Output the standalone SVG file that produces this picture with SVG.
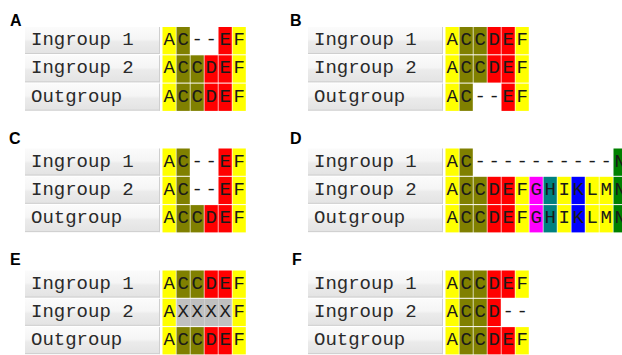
<svg xmlns="http://www.w3.org/2000/svg" width="622" height="355" viewBox="0 0 622 355">
<defs>
<linearGradient id="hdr" x1="0" y1="0" x2="0" y2="1">
<stop offset="0" stop-color="#fbfbfb"/>
<stop offset="0.45" stop-color="#f5f5f5"/>
<stop offset="0.55" stop-color="#ebebeb"/>
<stop offset="1" stop-color="#e3e3e3"/>
</linearGradient>
</defs>
<style>
.pl{font-family:"Liberation Sans",Arial,sans-serif;font-weight:bold;font-size:16px;fill:#000}
.lb{fill:url(#hdr)}
.ln{stroke:#cfcfcf;stroke-width:1;fill:none}
.lt{font-family:"Liberation Mono","Courier New",monospace;font-size:19px;fill:#2a2a2a}
.c{font-family:"Liberation Mono","Courier New",monospace;font-size:19px;fill:#1a1a1a;text-anchor:middle}
.y{fill:#ffff00}.o{fill:#808000}.r{fill:#ff0000}.m{fill:#ff00ff}.t{fill:#008080}.b{fill:#0000ff}.g{fill:#008000}.x{fill:#c0c0c0}
</style>
<rect width="622" height="355" fill="#fff"/>

<!-- Panel labels -->
<text class="pl" x="10" y="26">A</text>
<text class="pl" x="290" y="26">B</text>
<text class="pl" x="9" y="144">C</text>
<text class="pl" x="290" y="144">D</text>
<text class="pl" x="10" y="265">E</text>
<text class="pl" x="292" y="265">F</text>

<!-- Panel A -->
<g id="panelA" transform="translate(0,27)">
<g id="A-ingroup1">
<rect class="lb" x="25" y="0" width="135" height="27"/><line class="ln" x1="25" y1="26.5" x2="160" y2="26.5"/><line class="ln" x1="159.5" y1="0" x2="159.5" y2="27"/>
<text class="lt" x="31" y="18">Ingroup 1</text>
<rect class="y" x="162.5" y="0" width="13.3" height="27.3"/><text class="c" x="169.2" y="18">A</text>
<rect class="o" x="176.5" y="0" width="13.3" height="27.3"/><text class="c" x="183.2" y="18">C</text>
<text class="c" x="197.2" y="18">-</text>
<text class="c" x="211.2" y="18">-</text>
<rect class="r" x="218.5" y="0" width="13.3" height="27.3"/><text class="c" x="225.2" y="18">E</text>
<rect class="y" x="232.5" y="0" width="13.3" height="27.3"/><text class="c" x="239.2" y="18">F</text>
</g>
<g id="A-ingroup2" transform="translate(0,28.3)">
<rect class="lb" x="25" y="0" width="135" height="27"/><line class="ln" x1="25" y1="26.5" x2="160" y2="26.5"/><line class="ln" x1="159.5" y1="0" x2="159.5" y2="27"/>
<text class="lt" x="31" y="18">Ingroup 2</text>
<rect class="y" x="162.5" y="0" width="13.3" height="27.3"/><text class="c" x="169.2" y="18">A</text>
<rect class="o" x="176.5" y="0" width="13.3" height="27.3"/><text class="c" x="183.2" y="18">C</text>
<rect class="o" x="190.5" y="0" width="13.3" height="27.3"/><text class="c" x="197.2" y="18">C</text>
<rect class="r" x="204.5" y="0" width="13.3" height="27.3"/><text class="c" x="211.2" y="18">D</text>
<rect class="r" x="218.5" y="0" width="13.3" height="27.3"/><text class="c" x="225.2" y="18">E</text>
<rect class="y" x="232.5" y="0" width="13.3" height="27.3"/><text class="c" x="239.2" y="18">F</text>
</g>
<g id="A-outgroup" transform="translate(0,56.6)">
<rect class="lb" x="25" y="0" width="135" height="27"/><line class="ln" x1="25" y1="26.5" x2="160" y2="26.5"/><line class="ln" x1="159.5" y1="0" x2="159.5" y2="27"/>
<text class="lt" x="31" y="18">Outgroup</text>
<rect class="y" x="162.5" y="0" width="13.3" height="27.3"/><text class="c" x="169.2" y="18">A</text>
<rect class="o" x="176.5" y="0" width="13.3" height="27.3"/><text class="c" x="183.2" y="18">C</text>
<rect class="o" x="190.5" y="0" width="13.3" height="27.3"/><text class="c" x="197.2" y="18">C</text>
<rect class="r" x="204.5" y="0" width="13.3" height="27.3"/><text class="c" x="211.2" y="18">D</text>
<rect class="r" x="218.5" y="0" width="13.3" height="27.3"/><text class="c" x="225.2" y="18">E</text>
<rect class="y" x="232.5" y="0" width="13.3" height="27.3"/><text class="c" x="239.2" y="18">F</text>
</g>
</g>

<!-- Panel B -->
<g id="panelB" transform="translate(283,27)">
<g id="B-ingroup1">
<rect class="lb" x="25" y="0" width="135" height="27"/><line class="ln" x1="25" y1="26.5" x2="160" y2="26.5"/><line class="ln" x1="159.5" y1="0" x2="159.5" y2="27"/>
<text class="lt" x="31" y="18">Ingroup 1</text>
<rect class="y" x="162.5" y="0" width="13.3" height="27.3"/><text class="c" x="169.2" y="18">A</text>
<rect class="o" x="176.5" y="0" width="13.3" height="27.3"/><text class="c" x="183.2" y="18">C</text>
<rect class="o" x="190.5" y="0" width="13.3" height="27.3"/><text class="c" x="197.2" y="18">C</text>
<rect class="r" x="204.5" y="0" width="13.3" height="27.3"/><text class="c" x="211.2" y="18">D</text>
<rect class="r" x="218.5" y="0" width="13.3" height="27.3"/><text class="c" x="225.2" y="18">E</text>
<rect class="y" x="232.5" y="0" width="13.3" height="27.3"/><text class="c" x="239.2" y="18">F</text>
</g>
<g id="B-ingroup2" transform="translate(0,28.3)">
<rect class="lb" x="25" y="0" width="135" height="27"/><line class="ln" x1="25" y1="26.5" x2="160" y2="26.5"/><line class="ln" x1="159.5" y1="0" x2="159.5" y2="27"/>
<text class="lt" x="31" y="18">Ingroup 2</text>
<rect class="y" x="162.5" y="0" width="13.3" height="27.3"/><text class="c" x="169.2" y="18">A</text>
<rect class="o" x="176.5" y="0" width="13.3" height="27.3"/><text class="c" x="183.2" y="18">C</text>
<rect class="o" x="190.5" y="0" width="13.3" height="27.3"/><text class="c" x="197.2" y="18">C</text>
<rect class="r" x="204.5" y="0" width="13.3" height="27.3"/><text class="c" x="211.2" y="18">D</text>
<rect class="r" x="218.5" y="0" width="13.3" height="27.3"/><text class="c" x="225.2" y="18">E</text>
<rect class="y" x="232.5" y="0" width="13.3" height="27.3"/><text class="c" x="239.2" y="18">F</text>
</g>
<g id="B-outgroup" transform="translate(0,56.6)">
<rect class="lb" x="25" y="0" width="135" height="27"/><line class="ln" x1="25" y1="26.5" x2="160" y2="26.5"/><line class="ln" x1="159.5" y1="0" x2="159.5" y2="27"/>
<text class="lt" x="31" y="18">Outgroup</text>
<rect class="y" x="162.5" y="0" width="13.3" height="27.3"/><text class="c" x="169.2" y="18">A</text>
<rect class="o" x="176.5" y="0" width="13.3" height="27.3"/><text class="c" x="183.2" y="18">C</text>
<text class="c" x="197.2" y="18">-</text>
<text class="c" x="211.2" y="18">-</text>
<rect class="r" x="218.5" y="0" width="13.3" height="27.3"/><text class="c" x="225.2" y="18">E</text>
<rect class="y" x="232.5" y="0" width="13.3" height="27.3"/><text class="c" x="239.2" y="18">F</text>
</g>
</g>

<!-- Panel C -->
<g id="panelC" transform="translate(0,148.5)">
<g id="C-ingroup1">
<rect class="lb" x="25" y="0" width="135" height="27"/><line class="ln" x1="25" y1="26.5" x2="160" y2="26.5"/><line class="ln" x1="159.5" y1="0" x2="159.5" y2="27"/>
<text class="lt" x="31" y="18">Ingroup 1</text>
<rect class="y" x="162.5" y="0" width="13.3" height="27.3"/><text class="c" x="169.2" y="18">A</text>
<rect class="o" x="176.5" y="0" width="13.3" height="27.3"/><text class="c" x="183.2" y="18">C</text>
<text class="c" x="197.2" y="18">-</text>
<text class="c" x="211.2" y="18">-</text>
<rect class="r" x="218.5" y="0" width="13.3" height="27.3"/><text class="c" x="225.2" y="18">E</text>
<rect class="y" x="232.5" y="0" width="13.3" height="27.3"/><text class="c" x="239.2" y="18">F</text>
</g>
<g id="C-ingroup2" transform="translate(0,28.3)">
<rect class="lb" x="25" y="0" width="135" height="27"/><line class="ln" x1="25" y1="26.5" x2="160" y2="26.5"/><line class="ln" x1="159.5" y1="0" x2="159.5" y2="27"/>
<text class="lt" x="31" y="18">Ingroup 2</text>
<rect class="y" x="162.5" y="0" width="13.3" height="27.3"/><text class="c" x="169.2" y="18">A</text>
<rect class="o" x="176.5" y="0" width="13.3" height="27.3"/><text class="c" x="183.2" y="18">C</text>
<text class="c" x="197.2" y="18">-</text>
<text class="c" x="211.2" y="18">-</text>
<rect class="r" x="218.5" y="0" width="13.3" height="27.3"/><text class="c" x="225.2" y="18">E</text>
<rect class="y" x="232.5" y="0" width="13.3" height="27.3"/><text class="c" x="239.2" y="18">F</text>
</g>
<g id="C-outgroup" transform="translate(0,56.6)">
<rect class="lb" x="25" y="0" width="135" height="27"/><line class="ln" x1="25" y1="26.5" x2="160" y2="26.5"/><line class="ln" x1="159.5" y1="0" x2="159.5" y2="27"/>
<text class="lt" x="31" y="18">Outgroup</text>
<rect class="y" x="162.5" y="0" width="13.3" height="27.3"/><text class="c" x="169.2" y="18">A</text>
<rect class="o" x="176.5" y="0" width="13.3" height="27.3"/><text class="c" x="183.2" y="18">C</text>
<rect class="o" x="190.5" y="0" width="13.3" height="27.3"/><text class="c" x="197.2" y="18">C</text>
<rect class="r" x="204.5" y="0" width="13.3" height="27.3"/><text class="c" x="211.2" y="18">D</text>
<rect class="r" x="218.5" y="0" width="13.3" height="27.3"/><text class="c" x="225.2" y="18">E</text>
<rect class="y" x="232.5" y="0" width="13.3" height="27.3"/><text class="c" x="239.2" y="18">F</text>
</g>
</g>

<!-- Panel D -->
<g id="panelD" transform="translate(283,148.5)">
<g id="D-ingroup1">
<rect class="lb" x="25" y="0" width="135" height="27"/><line class="ln" x1="25" y1="26.5" x2="160" y2="26.5"/><line class="ln" x1="159.5" y1="0" x2="159.5" y2="27"/>
<text class="lt" x="31" y="18">Ingroup 1</text>
<rect class="y" x="162.5" y="0" width="13.3" height="27.3"/><text class="c" x="169.2" y="18">A</text>
<rect class="o" x="176.5" y="0" width="13.3" height="27.3"/><text class="c" x="183.2" y="18">C</text>
<text class="c" x="197.2" y="18">-</text>
<text class="c" x="211.2" y="18">-</text>
<text class="c" x="225.2" y="18">-</text>
<text class="c" x="239.2" y="18">-</text>
<text class="c" x="253.2" y="18">-</text>
<text class="c" x="267.2" y="18">-</text>
<text class="c" x="281.2" y="18">-</text>
<text class="c" x="295.2" y="18">-</text>
<text class="c" x="309.2" y="18">-</text>
<text class="c" x="323.2" y="18">-</text>
<rect class="g" x="330.5" y="0" width="13.3" height="27.3"/><text class="c" x="337.2" y="18">N</text>
</g>
<g id="D-ingroup2" transform="translate(0,28.3)">
<rect class="lb" x="25" y="0" width="135" height="27"/><line class="ln" x1="25" y1="26.5" x2="160" y2="26.5"/><line class="ln" x1="159.5" y1="0" x2="159.5" y2="27"/>
<text class="lt" x="31" y="18">Ingroup 2</text>
<rect class="y" x="162.5" y="0" width="13.3" height="27.3"/><text class="c" x="169.2" y="18">A</text>
<rect class="o" x="176.5" y="0" width="13.3" height="27.3"/><text class="c" x="183.2" y="18">C</text>
<rect class="o" x="190.5" y="0" width="13.3" height="27.3"/><text class="c" x="197.2" y="18">C</text>
<rect class="r" x="204.5" y="0" width="13.3" height="27.3"/><text class="c" x="211.2" y="18">D</text>
<rect class="r" x="218.5" y="0" width="13.3" height="27.3"/><text class="c" x="225.2" y="18">E</text>
<rect class="y" x="232.5" y="0" width="13.3" height="27.3"/><text class="c" x="239.2" y="18">F</text>
<rect class="m" x="246.5" y="0" width="13.3" height="27.3"/><text class="c" x="253.2" y="18">G</text>
<rect class="t" x="260.5" y="0" width="13.3" height="27.3"/><text class="c" x="267.2" y="18">H</text>
<rect class="y" x="274.5" y="0" width="13.3" height="27.3"/><text class="c" x="281.2" y="18">I</text>
<rect class="b" x="288.5" y="0" width="13.3" height="27.3"/><text class="c" x="295.2" y="18">K</text>
<rect class="y" x="302.5" y="0" width="13.3" height="27.3"/><text class="c" x="309.2" y="18">L</text>
<rect class="y" x="316.5" y="0" width="13.3" height="27.3"/><text class="c" x="323.2" y="18">M</text>
<rect class="g" x="330.5" y="0" width="13.3" height="27.3"/><text class="c" x="337.2" y="18">N</text>
</g>
<g id="D-outgroup" transform="translate(0,56.6)">
<rect class="lb" x="25" y="0" width="135" height="27"/><line class="ln" x1="25" y1="26.5" x2="160" y2="26.5"/><line class="ln" x1="159.5" y1="0" x2="159.5" y2="27"/>
<text class="lt" x="31" y="18">Outgroup</text>
<rect class="y" x="162.5" y="0" width="13.3" height="27.3"/><text class="c" x="169.2" y="18">A</text>
<rect class="o" x="176.5" y="0" width="13.3" height="27.3"/><text class="c" x="183.2" y="18">C</text>
<rect class="o" x="190.5" y="0" width="13.3" height="27.3"/><text class="c" x="197.2" y="18">C</text>
<rect class="r" x="204.5" y="0" width="13.3" height="27.3"/><text class="c" x="211.2" y="18">D</text>
<rect class="r" x="218.5" y="0" width="13.3" height="27.3"/><text class="c" x="225.2" y="18">E</text>
<rect class="y" x="232.5" y="0" width="13.3" height="27.3"/><text class="c" x="239.2" y="18">F</text>
<rect class="m" x="246.5" y="0" width="13.3" height="27.3"/><text class="c" x="253.2" y="18">G</text>
<rect class="t" x="260.5" y="0" width="13.3" height="27.3"/><text class="c" x="267.2" y="18">H</text>
<rect class="y" x="274.5" y="0" width="13.3" height="27.3"/><text class="c" x="281.2" y="18">I</text>
<rect class="b" x="288.5" y="0" width="13.3" height="27.3"/><text class="c" x="295.2" y="18">K</text>
<rect class="y" x="302.5" y="0" width="13.3" height="27.3"/><text class="c" x="309.2" y="18">L</text>
<rect class="y" x="316.5" y="0" width="13.3" height="27.3"/><text class="c" x="323.2" y="18">M</text>
<rect class="g" x="330.5" y="0" width="13.3" height="27.3"/><text class="c" x="337.2" y="18">N</text>
</g>
</g>

<!-- Panel E -->
<g id="panelE" transform="translate(0,270.5)">
<g id="E-ingroup1">
<rect class="lb" x="25" y="0" width="135" height="27"/><line class="ln" x1="25" y1="26.5" x2="160" y2="26.5"/><line class="ln" x1="159.5" y1="0" x2="159.5" y2="27"/>
<text class="lt" x="31" y="18">Ingroup 1</text>
<rect class="y" x="162.5" y="0" width="13.3" height="27.3"/><text class="c" x="169.2" y="18">A</text>
<rect class="o" x="176.5" y="0" width="13.3" height="27.3"/><text class="c" x="183.2" y="18">C</text>
<rect class="o" x="190.5" y="0" width="13.3" height="27.3"/><text class="c" x="197.2" y="18">C</text>
<rect class="r" x="204.5" y="0" width="13.3" height="27.3"/><text class="c" x="211.2" y="18">D</text>
<rect class="r" x="218.5" y="0" width="13.3" height="27.3"/><text class="c" x="225.2" y="18">E</text>
<rect class="y" x="232.5" y="0" width="13.3" height="27.3"/><text class="c" x="239.2" y="18">F</text>
</g>
<g id="E-ingroup2" transform="translate(0,28.3)">
<rect class="lb" x="25" y="0" width="135" height="27"/><line class="ln" x1="25" y1="26.5" x2="160" y2="26.5"/><line class="ln" x1="159.5" y1="0" x2="159.5" y2="27"/>
<text class="lt" x="31" y="18">Ingroup 2</text>
<rect class="y" x="162.5" y="0" width="13.3" height="27.3"/><text class="c" x="169.2" y="18">A</text>
<rect class="x" x="176.5" y="0" width="14" height="27.3"/><text class="c" x="183.2" y="18">X</text>
<rect class="x" x="190.5" y="0" width="14" height="27.3"/><text class="c" x="197.2" y="18">X</text>
<rect class="x" x="204.5" y="0" width="14" height="27.3"/><text class="c" x="211.2" y="18">X</text>
<rect class="x" x="218.5" y="0" width="13.3" height="27.3"/><text class="c" x="225.2" y="18">X</text>
<rect class="y" x="232.5" y="0" width="13.3" height="27.3"/><text class="c" x="239.2" y="18">F</text>
</g>
<g id="E-outgroup" transform="translate(0,56.6)">
<rect class="lb" x="25" y="0" width="135" height="27"/><line class="ln" x1="25" y1="26.5" x2="160" y2="26.5"/><line class="ln" x1="159.5" y1="0" x2="159.5" y2="27"/>
<text class="lt" x="31" y="18">Outgroup</text>
<rect class="y" x="162.5" y="0" width="13.3" height="27.3"/><text class="c" x="169.2" y="18">A</text>
<rect class="o" x="176.5" y="0" width="13.3" height="27.3"/><text class="c" x="183.2" y="18">C</text>
<rect class="o" x="190.5" y="0" width="13.3" height="27.3"/><text class="c" x="197.2" y="18">C</text>
<rect class="r" x="204.5" y="0" width="13.3" height="27.3"/><text class="c" x="211.2" y="18">D</text>
<rect class="r" x="218.5" y="0" width="13.3" height="27.3"/><text class="c" x="225.2" y="18">E</text>
<rect class="y" x="232.5" y="0" width="13.3" height="27.3"/><text class="c" x="239.2" y="18">F</text>
</g>
</g>

<!-- Panel F -->
<g id="panelF" transform="translate(283,270.5)">
<g id="F-ingroup1">
<rect class="lb" x="25" y="0" width="135" height="27"/><line class="ln" x1="25" y1="26.5" x2="160" y2="26.5"/><line class="ln" x1="159.5" y1="0" x2="159.5" y2="27"/>
<text class="lt" x="31" y="18">Ingroup 1</text>
<rect class="y" x="162.5" y="0" width="13.3" height="27.3"/><text class="c" x="169.2" y="18">A</text>
<rect class="o" x="176.5" y="0" width="13.3" height="27.3"/><text class="c" x="183.2" y="18">C</text>
<rect class="o" x="190.5" y="0" width="13.3" height="27.3"/><text class="c" x="197.2" y="18">C</text>
<rect class="r" x="204.5" y="0" width="13.3" height="27.3"/><text class="c" x="211.2" y="18">D</text>
<rect class="r" x="218.5" y="0" width="13.3" height="27.3"/><text class="c" x="225.2" y="18">E</text>
<rect class="y" x="232.5" y="0" width="13.3" height="27.3"/><text class="c" x="239.2" y="18">F</text>
</g>
<g id="F-ingroup2" transform="translate(0,28.3)">
<rect class="lb" x="25" y="0" width="135" height="27"/><line class="ln" x1="25" y1="26.5" x2="160" y2="26.5"/><line class="ln" x1="159.5" y1="0" x2="159.5" y2="27"/>
<text class="lt" x="31" y="18">Ingroup 2</text>
<rect class="y" x="162.5" y="0" width="13.3" height="27.3"/><text class="c" x="169.2" y="18">A</text>
<rect class="o" x="176.5" y="0" width="13.3" height="27.3"/><text class="c" x="183.2" y="18">C</text>
<rect class="o" x="190.5" y="0" width="13.3" height="27.3"/><text class="c" x="197.2" y="18">C</text>
<rect class="r" x="204.5" y="0" width="13.3" height="27.3"/><text class="c" x="211.2" y="18">D</text>
<text class="c" x="225.2" y="18">-</text>
<text class="c" x="239.2" y="18">-</text>
</g>
<g id="F-outgroup" transform="translate(0,56.6)">
<rect class="lb" x="25" y="0" width="135" height="27"/><line class="ln" x1="25" y1="26.5" x2="160" y2="26.5"/><line class="ln" x1="159.5" y1="0" x2="159.5" y2="27"/>
<text class="lt" x="31" y="18">Outgroup</text>
<rect class="y" x="162.5" y="0" width="13.3" height="27.3"/><text class="c" x="169.2" y="18">A</text>
<rect class="o" x="176.5" y="0" width="13.3" height="27.3"/><text class="c" x="183.2" y="18">C</text>
<rect class="o" x="190.5" y="0" width="13.3" height="27.3"/><text class="c" x="197.2" y="18">C</text>
<rect class="r" x="204.5" y="0" width="13.3" height="27.3"/><text class="c" x="211.2" y="18">D</text>
<rect class="r" x="218.5" y="0" width="13.3" height="27.3"/><text class="c" x="225.2" y="18">E</text>
<rect class="y" x="232.5" y="0" width="13.3" height="27.3"/><text class="c" x="239.2" y="18">F</text>
</g>
</g>
</svg>
